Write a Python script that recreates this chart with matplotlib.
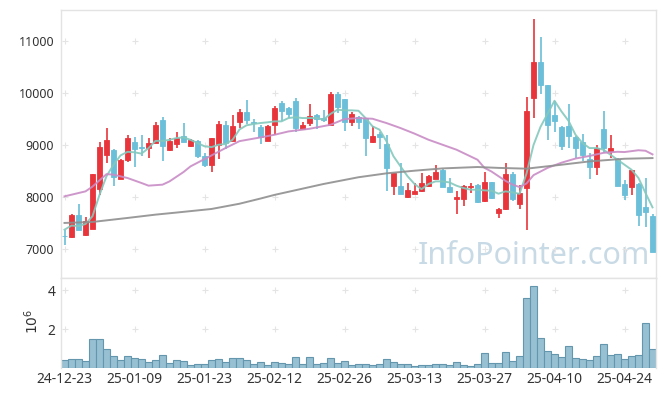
import numpy as np
import matplotlib
matplotlib.use("Agg")
import matplotlib.pyplot as plt

# OHLC (trading-day index 0..84)
opens = [7250, 7220, 7660, 7260, 7390, 8160, 8810, 8910, 8350, 8720,
         9060, 8960, 8940, 9040, 9490, 8900, 9020, 9170, 8990, 9080,
         8790, 8610, 9010, 9390, 9080, 9440, 9630, 9450, 9340, 9080,
         9380, 9810, 9710, 9850, 9310, 9420, 9580, 9530, 9380, 9980,
         9890, 9440, 9540, 9520, 9050, 9210, 9020, 8210, 8220, 7990,
         8060, 8110, 8220, 8350, 8520, 8200, 7970, 7960, 8190, 8240,
         7920, 8280, 7700, 7760, 8450, 7870, 8170, 9900, 10590, 10160,
         9580, 9350, 9370, 9160, 9050, 8740, 8570, 9310, 8890, 8730,
         8250, 8190, 8250, 7800, 7630]
highs = [7370, 7670, 7870, 7610, 8450, 9060, 9330, 8920, 8730, 9200,
         9150, 9190, 9140, 9440, 9540, 9140, 9260, 9420, 9110, 9090,
         8850, 9140, 9470, 9470, 9570, 9700, 9870, 9500, 9380, 9380,
         9760, 9850, 9740, 9900, 9440, 9790, 9600, 9680, 10030, 10020,
         9890, 9640, 9550, 9530, 9360, 9260, 9200, 8470, 8650, 8270,
         8270, 8470, 8430, 8620, 8540, 8360, 8110, 8230, 8260, 8250,
         8490, 8290, 7780, 8650, 8490, 8240, 9930, 11430, 11080, 10160,
         9850, 9360, 9790, 9170, 9210, 8850, 9010, 9650, 9190, 8750,
         8330, 8520, 8260, 8370, 7670]
lows = [7080, 7210, 7360, 7250, 7380, 8040, 8650, 8220, 8340, 8670,
        8580, 8780, 8750, 9030, 8700, 8890, 8940, 9050, 8970, 8760,
        8570, 8480, 8740, 8930, 9070, 9330, 9400, 9260, 9020, 9080,
        9200, 9470, 9520, 9260, 9300, 9360, 9310, 9450, 9360, 9610,
        9270, 9360, 9310, 8780, 9040, 8930, 8120, 8040, 8050, 7980,
        8050, 8100, 8200, 8340, 8200, 8080, 7680, 7830, 8080, 7890,
        7910, 7960, 7590, 7750, 7920, 7760, 7370, 9520, 9990, 9100,
        9260, 8910, 8940, 8750, 8690, 8350, 8430, 8850, 8750, 8210,
        7950, 8040, 7450, 7430, 6940]
closes = [7240, 7660, 7370, 7530, 8450, 8970, 9100, 8380, 8720, 9130,
          8930, 8940, 9040, 9390, 8990, 9080, 9140, 9060, 9100, 8780,
          8620, 9130, 9400, 9040, 9370, 9630, 9490, 9430, 9150, 9360,
          9720, 9650, 9600, 9330, 9390, 9560, 9510, 9490, 9980, 9740,
          9440, 9600, 9450, 9130, 9180, 9150, 8560, 8460, 8060, 8140,
          8120, 8260, 8410, 8490, 8200, 8090, 7990, 8220, 8210, 7900,
          8280, 7980, 7770, 8450, 7970, 8080, 9660, 10590, 10160, 9390,
          9460, 8990, 9170, 8950, 8800, 8570, 8950, 8940, 8940, 8220,
          8030, 8510, 7660, 7720, 6940]

# volume in millions
volume = [0.41, 0.44, 0.44, 0.36, 1.50, 1.50, 0.98, 0.62, 0.41, 0.62,
          0.51, 0.44, 0.31, 0.41, 0.67, 0.25, 0.41, 0.36, 0.15, 0.20,
          0.20, 0.41, 0.46, 0.31, 0.51, 0.51, 0.41, 0.20, 0.31, 0.15,
          0.31, 0.25, 0.20, 0.56, 0.20, 0.56, 0.20, 0.25, 0.51, 0.24,
          0.36, 0.13, 0.20, 0.20, 0.15, 0.20, 0.46, 0.31, 0.20, 0.20,
          0.10, 0.15, 0.15, 0.20, 0.20, 0.15, 0.31, 0.15, 0.10, 0.20,
          0.77, 0.25, 0.25, 0.82, 0.36, 0.62, 3.61, 4.24, 1.55, 0.88,
          0.72, 0.56, 1.13, 0.51, 0.46, 0.41, 0.62, 1.24, 0.67, 0.72,
          0.46, 0.62, 0.67, 2.33, 0.98]

# moving average lines
ma5 = [7370, 7450, 7440, 7480, 7630, 8040, 8400, 8620, 8800, 8870,
       8860, 8835, 8940, 9080, 9080, 9100, 9135, 9148, 9100, 9040,
       8975, 8960, 9005, 9020, 9100, 9300, 9380, 9405, 9424, 9437,
       9456, 9456, 9520, 9535, 9520, 9520, 9520, 9490, 9600, 9680,
       9668, 9668, 9660, 9520, 9360, 9296, 9072, 8783, 8590, 8400,
       8250, 8150, 8250, 8300, 8300, 8280, 8217, 8172, 8140, 8140,
       8127, 8121, 8063, 8108, 8089, 8060, 8450, 9000, 9350, 9600,
       9852, 9646, 9467, 9198, 9038, 8942, 8942, 8910, 8813, 8717,
       8621, 8525, 8365, 8077, 7800]
ma20_x = [0, 3, 4, 6, 7, 9, 11, 12, 14, 15, 17, 18, 21, 23, 25, 28, 30,
          32, 35, 38, 40, 42, 44, 46, 48, 50, 52, 54, 56, 59, 60, 61, 63,
          64, 65, 66, 67, 69, 71, 73, 75, 77, 79, 80, 82, 83, 84]
ma20 = [8012, 8108, 8200, 8440, 8430, 8365, 8269, 8218, 8237, 8300, 8480,
        8589, 8800, 8942, 9075, 9147, 9198, 9262, 9313, 9390, 9500, 9519,
        9506, 9423, 9327, 9220, 9102, 9006, 8910, 8717, 8560, 8490, 8310,
        8240, 8190, 8260, 8420, 8560, 8660, 8740, 8790, 8850, 8870, 8865,
        8900, 8890, 8820]
ma60_x = [0, 4, 9, 13, 16, 21, 25, 28, 30, 33, 37, 42, 46, 50, 54, 59,
          62, 66, 71, 75, 80, 84]
ma60 = [7500, 7519, 7596, 7660, 7700, 7769, 7870, 7970, 8040, 8130, 8250,
        8380, 8455, 8506, 8550, 8577, 8560, 8545, 8621, 8685, 8736, 8749]

tick_pos = [0, 10, 20, 30, 40, 50, 60, 70, 80]
tick_labels = ["24-12-23", "25-01-09", "25-01-23", "25-02-12", "25-02-26",
               "25-03-13", "25-03-27", "25-04-10", "25-04-24"]
price_ticks = [7000, 8000, 9000, 10000, 11000]
vol_ticks = [2, 4]

red = "#e8353b"
blue = "#6bbfd8"
spine_c = "#e3e3e3"
grid_c = "#e4e4e4"
text_c = "#333333"
font = "Noto Sans"

o = np.array(opens)
h = np.array(highs)
l = np.array(lows)
c = np.array(closes)
x = np.arange(len(c))
cols = [red if cc > oo else blue for oo, cc in zip(o, c)]

fig = plt.figure(figsize=(6.65, 3.96), dpi=100)
ax = fig.add_axes([61 / 665, 1 - 278 / 396, 595 / 665, 268 / 396])
axv = fig.add_axes([61 / 665, 1 - 368 / 396, 595 / 665, 90 / 396], sharex=ax)

# candles
ax.vlines(x, l, h, colors=cols, linewidth=1.2, zorder=2)
ax.bar(x, np.abs(c - o), bottom=np.minimum(o, c), width=0.66,
       color=cols, edgecolor=cols, linewidth=0.6, zorder=3)

ax.plot(x, ma5, color="#84c9bd", linewidth=1.4, alpha=0.9, zorder=4)
ax.plot(ma20_x, ma20, color="#c98cc6", linewidth=1.4, alpha=0.9, zorder=4)
ax.plot(ma60_x, ma60, color="#8f8f8f", linewidth=1.4, alpha=0.9, zorder=4)

# grid shown as small "+" marks at tick crossings
gx, gy = np.meshgrid(tick_pos, price_ticks)
ax.plot(gx.ravel(), gy.ravel(), linestyle="none", marker="+", markersize=4,
        color=grid_c, markeredgewidth=0.8, zorder=1)

ax.text(0.99, 0.025, "InfoPointer.com", transform=ax.transAxes, ha="right",
        va="bottom", fontsize=22, color="#c8dae5", family=font, zorder=0)

ax.set_xlim(-0.5, 84.5)
ax.set_ylim(6440, 11600)
ax.set_yticks(price_ticks)
ax.set_yticklabels([str(t) for t in price_ticks], family=font, fontsize=9,
                   color=text_c)
ax.tick_params(axis="y", length=0, pad=5)
ax.tick_params(axis="x", length=0, labelbottom=False)

# volume
axv.bar(x, volume, width=1.0, color="#97c1d2", edgecolor="#6497ae",
        linewidth=0.8, zorder=2)
vx, vy = np.meshgrid(tick_pos, vol_ticks)
axv.plot(vx.ravel(), vy.ravel(), linestyle="none", marker="+", markersize=4,
         color=grid_c, markeredgewidth=0.8, zorder=1)
axv.set_ylim(0, 4.64)
axv.set_yticks(vol_ticks)
axv.set_yticklabels([str(t) for t in vol_ticks], family=font, fontsize=10,
                    color=text_c)
axv.set_xticks(tick_pos)
axv.set_xticklabels(tick_labels, family=font, fontsize=10, color=text_c)
axv.tick_params(length=0, pad=4)
axv.tick_params(axis="x", pad=3)
fig.text(32 / 665, 1 - 321 / 396, r"$10^{6}$", rotation=90, ha="center",
         va="center", fontsize=10, color=text_c)

for a in (ax, axv):
    for s in a.spines.values():
        s.set_color(spine_c)
        s.set_linewidth(1.0)
axv.spines["bottom"].set_visible(False)

fig.savefig("out.png", dpi=100)
